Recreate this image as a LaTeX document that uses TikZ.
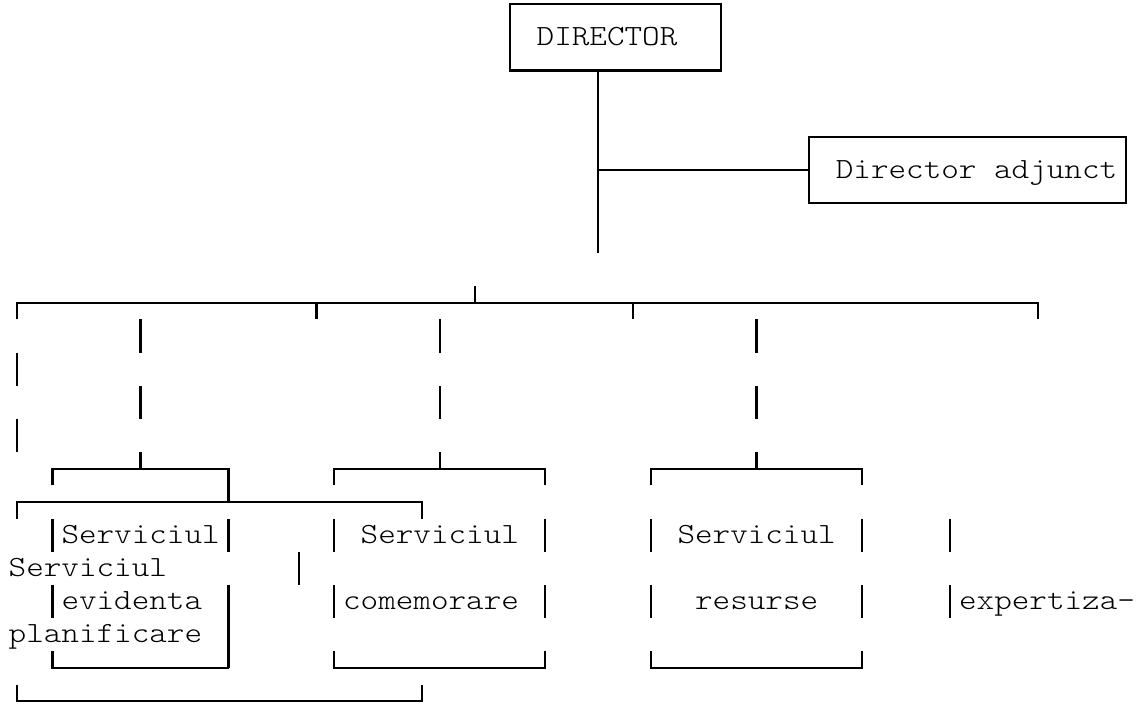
\documentclass[tikz,border=0pt]{standalone}
\usepackage{fontspec}
\newfontfamily\monofont{Latin Modern Mono Light}[FakeStretch=1.143]
\begin{document}
\begin{tikzpicture}[x=17.6pt,y=-33.2pt,
  ln/.style={line width=2.2pt,black},
  txt/.style={anchor=base west,inner sep=0pt,font=\monofont\fontsize{29.3}{33}\selectfont}]
\useasboundingbox (-0.983,-0.1205) rectangle (63.79,21.114);
% ---- text nodes (cell start = column - 0.5, baseline = row + 0.241)
\node[txt] (dir)  at (29.5,1.241) {DIRECTOR};
\node[txt] (adj)  at (46.5,5.241) {Director adjunct};
\node[txt] (s1)   at (2.5,16.241) {Serviciul};
\node[txt] (s2)   at (19.5,16.241) {Serviciul};
\node[txt] (s3)   at (37.5,16.241) {Serviciul};
\node[txt] (s0)   at (-0.5,17.241) {Serviciul};
\node[txt] (ev)   at (2.5,18.241) {evidenta};
\node[txt] (com)  at (18.5,18.241) {comemorare};
\node[txt] (res)  at (38.5,18.241) {resurse};
\node[txt] (exp)  at (53.5,18.241) {expertiza-};
\node[txt] (pl)   at (-0.5,19.241) {planificare};
% ---- top boxes
\coordinate (dtop) at (33,2);
\coordinate (dbot) at (33,7.5);
\coordinate (dmid) at (33,5);
\coordinate (aleft) at (45,5);
\draw[ln] (28,0) rectangle (40,2);
\draw[ln] (dtop) -- (dbot);
\draw[ln] (dmid) -- (aleft);
\draw[ln] (45,4) rectangle (63,6);
% ---- main bar
\coordinate (up) at (26,8.5);
\draw[ln] (up) -- (26,9);
\draw[ln] (0,9.5) -- (0,9) -- (58,9) -- (58,9.5);
\draw[ln] (17,9) -- (17,9.5);
\draw[ln] (35,9) -- (35,9.5);
% ---- verticals made of bar characters
\foreach \c in {7,24,42}{
  \draw[ln] (\c,9.5) -- (\c,10.5);
  \draw[ln] (\c,11.5) -- (\c,12.5);
  \draw[ln] (\c,13.5) -- (\c,14);
}
\foreach \r in {11,13}{ \draw[ln] (0,\r-0.5) -- (0,\r+0.5); }
% ---- row 14 brackets
\draw[ln] (2,14.5) -- (2,14) -- (12,14) -- (12,15);
\draw[ln] (18,14.5) -- (18,14) -- (30,14) -- (30,14.5);
\draw[ln] (36,14.5) -- (36,14) -- (48,14) -- (48,14.5);
% ---- row 15 bracket
\draw[ln] (0,15.5) -- (0,15) -- (23,15) -- (23,15.5);
% ---- row 16 bars
\foreach \c in {2,12,18,30,36,48,53}{ \draw[ln] (\c,15.5) -- (\c,16.5); }
% ---- row 17 bar
\draw[ln] (16,16.5) -- (16,17.5);
% ---- row 18 bars
\foreach \c in {2,18,30,36,48,53}{ \draw[ln] (\c,17.5) -- (\c,18.5); }
\draw[ln] (12,17.5) -- (12,20);
% ---- row 20 box bottoms
\draw[ln] (2,19.5) -- (2,20) -- (12,20);
\draw[ln] (18,19.5) -- (18,20) -- (30,20) -- (30,19.5);
\draw[ln] (36,19.5) -- (36,20) -- (48,20) -- (48,19.5);
% ---- row 21 bracket
\draw[ln] (0,20.5) -- (0,21) -- (23,21) -- (23,20.5);
\end{tikzpicture}
\end{document}
